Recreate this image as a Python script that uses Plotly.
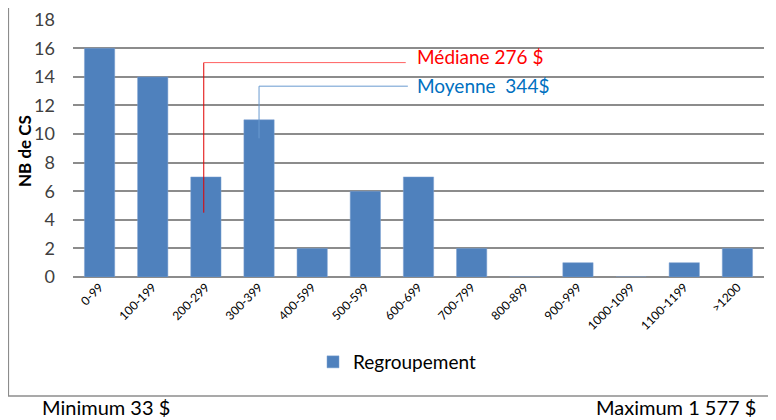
import plotly.graph_objects as go

categories = ["0-99", "100-199", "200-299", "300-399", "400-599", "500-599", "600-699",
              "700-799", "800-899", "900-999", "1000-1099", "1100-1199", ">1200"]
counts = [16, 14, 7, 11, 2, 6, 7, 2, 0, 1, 0, 1, 2]
y_ticks = [0, 2, 4, 6, 8, 10, 12, 14, 16, 18]

median_label = "Médiane 276 $"
mean_label = "Moyenne  344$"
min_label = "Minimum 33 $"
max_label = "Maximum 1 577 $"

font = "Lato, 'Open Sans', sans-serif"

# page body has an 8px margin: work in screen coords and shift
OFF = 8
W, H = 776 - OFF, 420 - OFF
PL, PR, PT, PB = 73, 764, 19, 277  # plot area in screen pixels
L, R, T, B = PL - OFF, 776 - PR, PT - OFF, H - (PB - OFF)
pw, ph = PR - PL, PB - PT

def px(x):
    return (x - PL) / pw

def py(y):
    return (PB - y) / ph

fig = go.Figure()
fig.add_trace(go.Bar(x=categories, y=counts, name="Regroupement",
                     marker=dict(color="#4F81BD", line=dict(color="#7FA3D2", width=0.5))))

shapes = [
    # frame
    dict(type="line", xref="paper", yref="paper", x0=px(8.5), x1=px(8.5), y0=py(-2), y1=py(396),
         line=dict(color="#8C8C8C", width=1.2)),
    dict(type="line", xref="paper", yref="paper", x0=px(8), x1=px(780), y0=py(396), y1=py(396),
         line=dict(color="#8C8C8C", width=1.5)),
    # median leader
    dict(type="line", xref="x", yref="y", x0=1.96, x1=1.96, y0=4.5, y1=15.0,
         line=dict(color="#E00000", width=1)),
    dict(type="line", xref="x", yref="y", x0=1.96, x1=5.76, y0=15.0, y1=15.0,
         line=dict(color="#FF6060", width=1)),
    # mean leader
    dict(type="line", xref="x", yref="y", x0=3.0, x1=3.0, y0=9.7, y1=13.35,
         line=dict(color="#6A9BD0", width=1)),
    dict(type="line", xref="x", yref="y", x0=3.0, x1=5.8, y0=13.35, y1=13.35,
         line=dict(color="#6A9BD0", width=1)),
]

annotations = [
    dict(xref="x", yref="y", x=5.93, y=15.45, text=median_label, showarrow=False,
         xanchor="left", yanchor="middle", font=dict(color="#FF0000", size=19, family=font)),
    dict(xref="x", yref="y", x=5.93, y=13.4, text=mean_label, showarrow=False,
         xanchor="left", yanchor="middle", font=dict(color="#0070C0", size=19, family=font)),
    dict(xref="paper", yref="paper", x=px(40), y=py(407), text=min_label, showarrow=False,
         xanchor="left", yanchor="middle", font=dict(color="#000000", size=20, family=font)),
    dict(xref="paper", yref="paper", x=px(758), y=py(407), text=max_label, showarrow=False,
         xanchor="right", yanchor="middle", font=dict(color="#000000", size=20, family=font)),
    dict(xref="paper", yref="paper", x=px(24), y=py(151), text="<b>NB de CS</b>", showarrow=False,
         textangle=-90, xanchor="center", yanchor="middle",
         font=dict(color="#000000", size=17, family=font)),
]

fig.update_layout(
    width=W, height=H,
    margin=dict(l=L, r=R, t=T, b=B, autoexpand=False),
    plot_bgcolor="white", paper_bgcolor="white",
    bargap=0.43,
    showlegend=True,
    legend=dict(orientation="h", x=px(397), y=py(362), xanchor="center", yanchor="middle",
                itemwidth=30, font=dict(size=19, color="#000000", family=font)),
    shapes=shapes,
    annotations=annotations,
    font=dict(family=font),
)
fig.update_yaxes(range=[0, 18.05], tickvals=y_ticks, showgrid=True, gridcolor="#8C8C8C",
                 gridwidth=2, zeroline=True, zerolinecolor="#8C8C8C", zerolinewidth=2,
                 showline=False, ticks="", ticklabelstandoff=17,
                 tickfont=dict(size=18, color="#404040", family=font))
fig.update_xaxes(tickangle=-45, tickfont=dict(size=12, color="#000000", family=font),
                 showline=False, showgrid=False, ticks="")

fig.write_html("out.html")
